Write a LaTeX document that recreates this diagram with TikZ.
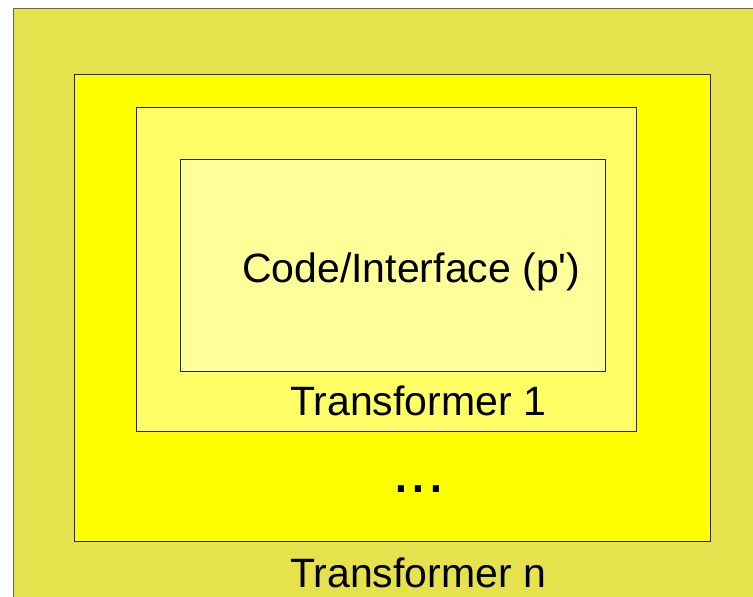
\documentclass[tikz,border=0pt]{standalone}
\usepackage{fontspec}
\setmainfont{Liberation Sans}
\definecolor{olivefill}{RGB}{230,226,77}
\definecolor{layerfill}{RGB}{255,255,0}
\definecolor{paleone}{RGB}{255,255,102}
\definecolor{palecore}{RGB}{255,255,153}
\definecolor{rimgray}{RGB}{100,100,90}
\tikzset{
  layer/.style={draw=black!85, line width=1pt},
  caption/.style={anchor=base west, inner sep=0pt, font=\fontsize{41}{41}\selectfont}
}
\begin{document}
\begin{tikzpicture}[x=1pt, y=-1pt]
  \useasboundingbox (0,0) rectangle (753,597);
  % white page background
  \fill[white] (0,0) rectangle (753,597);
  % outermost layer, running off the page to the right and bottom
  \filldraw[fill=olivefill, draw=rimgray, line width=1pt] (13,8) rectangle (760,605);
  % Transformer n
  \filldraw[layer, fill=layerfill] (74,74) rectangle (710,541);
  % Transformer 1
  \filldraw[layer, fill=paleone] (136,107) rectangle (636,431);
  % code / interface core
  \filldraw[layer, fill=palecore] (180,159) rectangle (605,371);

  \node[caption] (core) at (242,282) {Code/Interface (p\textquotesingle)};
  \node[caption] (t1) at (290,415) {Transformer 1};
  \node[caption, font=\fontsize{64}{64}\selectfont] (dots) at (392,492) {...};
  \node[caption] (tn) at (290,587) {Transformer n};
\end{tikzpicture}
\end{document}
